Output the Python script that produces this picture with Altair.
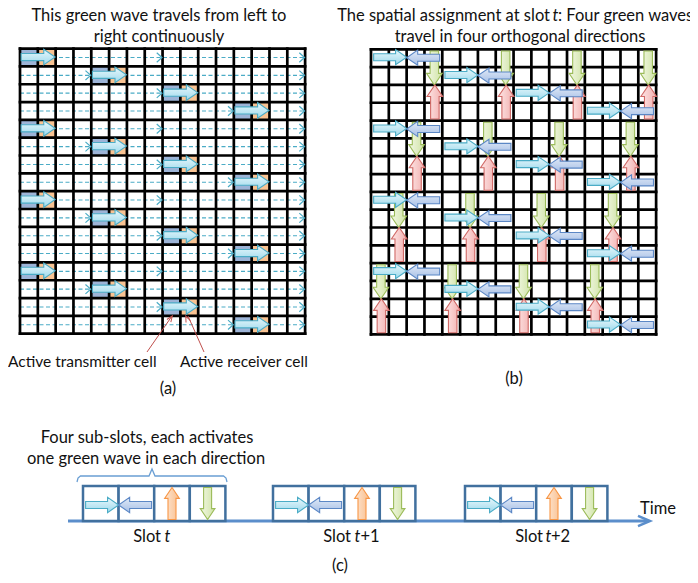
import altair as alt
import pandas as pd

# ------------------------------------------------------------------
# Data
# ------------------------------------------------------------------
N_CELLS = 16
# panel (a): per row, column of active transmitter cell and receiver cell
A_ROW = [0, 1, 2, 3, 4, 5, 6, 7, 8, 9, 10, 11, 12, 13, 14, 15]
A_TX_COL = [0, 4, 8, 12, 0, 4, 8, 12, 0, 4, 8, 12, 0, 4, 8, 12]
A_RX_COL = [1, 5, 9, 13, 1, 5, 9, 13, 1, 5, 9, 13, 1, 5, 9, 13]
# open chevrons on the dashed wave lines (row, grid-boundary column)
A_CHEV_ROW = [0, 0, 1, 1, 2, 2, 3, 3, 4, 4, 5, 5, 6, 6, 7, 7,
              8, 8, 9, 9, 10, 10, 11, 11, 12, 12, 13, 13, 14, 14, 15, 15]
A_CHEV_COL = [8, 16, 4, 16, 8, 16, 12, 16, 8, 16, 4, 16, 8, 16, 12, 16,
              8, 16, 4, 16, 8, 16, 12, 16, 8, 16, 4, 16, 8, 16, 12, 16]

# panel (b): horizontal waves (row, first column of the 2-cell arrow)
B_H_ROW = [0, 1, 2, 3, 4, 5, 6, 7, 8, 9, 10, 11, 12, 13, 14, 15]
B_RIGHT_COL = [0, 4, 8, 12, 0, 4, 8, 12, 0, 4, 8, 12, 0, 4, 8, 12]
B_LEFT_COL = [2, 6, 10, 14, 2, 6, 10, 14, 2, 6, 10, 14, 2, 6, 10, 14]
# vertical waves (column, first row of the 2-cell arrow)
B_V_COL = [3, 7, 11, 15, 2, 6, 10, 14, 1, 5, 9, 13, 0, 4, 8, 12]
B_DOWN_ROW = [0, 0, 0, 0, 4, 4, 4, 4, 8, 8, 8, 8, 12, 12, 12, 12]
B_UP_ROW = [2, 2, 2, 2, 6, 6, 6, 6, 10, 10, 10, 10, 14, 14, 14, 14]

# panel (c): slots and their four sub-slots
C_SLOTS = ["t", "t+1", "t+2"]
C_SUB_DIR = ["right", "left", "up", "down"]

# texts
TXT_CENTER = ["This green wave travels from left to", "right continuously",
              "travel in four orthogonal directions", "(a)", "(b)",
              "Four sub-slots, each activates", "one green wave in each direction", "(c)"]
TXT_RIGHT = ["The spatial assignment at slot", "Slot", "Slot", "Slot"]
TXT_ITALIC = ["t", "t", "t", "t"]
TXT_LEFT = [": Four green waves", "+1", "+2", "Time"]
TXT_LABELS = ["Active transmitter cell", "Active receiver cell"]

# ------------------------------------------------------------------
# Layout (pixel frame of the figure)
# ------------------------------------------------------------------
A_X0, A_Y0 = 20.0, 48.6
B_X0, B_Y0 = 371.0, 49.3
CELL = 17.82
C_SLOT_X0 = [83.0, 273.0, 465.0]
C_SUB_W = 35.6
C_TOP, C_BOT = 486.0, 521.0

POS_CENTER = [(159, 21), (159, 42), (520, 42), (168, 394), (514, 384),
              (147, 443), (146, 464), (340, 571)]
POS_RIGHT = [(550, 21), (161, 542), (351, 542), (543, 542)]
POS_ITALIC = [(552.5, 21), (164.5, 542), (354.5, 542), (545.5, 542)]
POS_LEFT = [(558, 21), (360.5, 542), (551, 542), (640, 514)]
POS_LABELS = [(8, 367), (180, 367)]

FONT = "Lato"
FS = 16.5
FS_LABEL = 15.5

XS = alt.Scale(domain=[8, 690], nice=False, zero=False)
YS = alt.Scale(domain=[8, 575], nice=False, zero=False, reverse=True)


def ex(f="x"):
    return alt.X(f"{f}:Q", scale=XS, axis=None)


def ey(f="y"):
    return alt.Y(f"{f}:Q", scale=YS, axis=None)


# arrow shapes (unit square [-1,1])
P_RIGHT = "M-1,-0.21L0.33,-0.21L0.33,-0.46L1,0L0.33,0.46L0.33,0.21L-1,0.21Z"
P_LEFT = "M1,-0.21L-0.33,-0.21L-0.33,-0.46L-1,0L-0.33,0.46L-0.33,0.21L1,0.21Z"
P_UP = "M-0.25,1L-0.25,-0.32L-0.46,-0.32L0,-1L0.46,-0.32L0.25,-0.32L0.25,1Z"
P_DOWN = "M-0.25,-1L-0.25,0.32L-0.46,0.32L0,1L0.46,0.32L0.25,0.32L0.25,-1Z"
P_CHEV = "M-0.5,-0.9L0.5,0L-0.5,0.9"

STYLE = {
    "right": ("#4BACC6", ["#EAF8FC", "#9CD9EC"], True),
    "left": ("#5B87C5", ["#E1EAF7", "#A6BFE6"], True),
    "down": ("#9BBB59", ["#F3F8E6", "#CFE3A4"], False),
    "up": ("#D06966", ["#FDE6E6", "#F2AFAE"], False),
    "upo": ("#F79646", ["#FDE6D3", "#F9BE8C"], False),
}
PATH = {"right": P_RIGHT, "left": P_LEFT, "down": P_DOWN, "up": P_UP, "upo": P_UP}


def arrows(df, kind, length):
    stroke, stops, vertical_grad = STYLE[kind]
    grad = alt.Gradient(
        gradient="linear",
        stops=[alt.GradientStop(color=stops[0], offset=0), alt.GradientStop(color=stops[1], offset=1)],
        x1=0, y1=0, x2=0 if vertical_grad else 1, y2=1 if vertical_grad else 0,
    )
    return alt.Chart(df).mark_point(
        shape=PATH[kind], size=length * length, filled=True, fill=grad,
        stroke=stroke, strokeWidth=1.1, opacity=1, fillOpacity=1,
    ).encode(x=ex(), y=ey())


layers = []

# ---------------- panel (a) ----------------
cells = []
for r, tx, rx in zip(A_ROW, A_TX_COL, A_RX_COL):
    cells.append(dict(x=A_X0 + tx * CELL, x2=A_X0 + (tx + 1) * CELL, y=A_Y0 + r * CELL,
                      y2=A_Y0 + (r + 1) * CELL, c="#9DB4D7"))
    cells.append(dict(x=A_X0 + rx * CELL, x2=A_X0 + (rx + 1) * CELL, y=A_Y0 + r * CELL,
                      y2=A_Y0 + (r + 1) * CELL, c="#F9C393"))
layers.append(alt.Chart(pd.DataFrame(cells)).mark_rect().encode(
    x=ex(), x2="x2:Q", y=ey(), y2="y2:Q", color=alt.Color("c:N", scale=None)))

dash = pd.DataFrame(dict(x=[A_X0] * len(A_ROW), x2=[A_X0 + N_CELLS * CELL] * len(A_ROW),
                         y=[A_Y0 + (r + 0.5) * CELL for r in A_ROW]))
layers.append(alt.Chart(dash).mark_rule(color="#4BACC6", strokeWidth=1.1, strokeDash=[4, 2.5]).encode(
    x=ex(), x2="x2:Q", y=ey()))

# grids
grid = []
for x0, y0 in [(A_X0, A_Y0), (B_X0, B_Y0)]:
    for i in range(N_CELLS + 1):
        grid.append(dict(x=x0 + i * CELL, x2=x0 + i * CELL, y=y0, y2=y0 + N_CELLS * CELL))
        grid.append(dict(x=x0, x2=x0 + N_CELLS * CELL, y=y0 + i * CELL, y2=y0 + i * CELL))
layers.append(alt.Chart(pd.DataFrame(grid)).mark_rule(color="#000000", strokeWidth=2.7, strokeCap="square").encode(
    x=ex(), x2="x2:Q", y=ey(), y2="y2:Q"))

chev = pd.DataFrame(dict(x=[A_X0 + c * CELL - 3.2 for c in A_CHEV_COL],
                         y=[A_Y0 + (r + 0.5) * CELL for r in A_CHEV_ROW]))
layers.append(alt.Chart(chev).mark_point(shape=P_CHEV, size=110, filled=False, stroke="#4BACC6",
                                         strokeWidth=1.2, opacity=1).encode(x=ex(), y=ey()))

a_arr = pd.DataFrame(dict(x=[A_X0 + (rx + 1) * CELL - 0.5 - 17 for rx in A_RX_COL],
                          y=[A_Y0 + (r + 0.5) * CELL - 0.5 for r in A_ROW]))
layers.append(arrows(a_arr, "right", 34))

# pointer lines to the active cells
ptr = pd.DataFrame(dict(x=[147, 204], y=[352, 352], x2=[172, 188], y2=[316, 316]))
layers.append(alt.Chart(ptr).mark_rule(color="#C0504D", strokeWidth=1).encode(
    x=ex(), y=ey(), x2="x2:Q", y2="y2:Q"))
ptr_head = pd.DataFrame(dict(x=[170.6, 187.0], y=[318.4, 318.8], a=[35.0, 336.0]))
layers.append(alt.Chart(ptr_head).mark_point(shape="M-0.8,1L0,-1L0.8,1", size=36, filled=False,
                                             stroke="#C0504D", strokeWidth=1, opacity=1).encode(
    x=ex(), y=ey(), angle=alt.Angle("a:Q", scale=None)))

# ---------------- panel (b) ----------------
b_right = pd.DataFrame(dict(x=[B_X0 + (c + 2) * CELL - 16.5 for c in B_RIGHT_COL],
                            y=[B_Y0 + (r + 0.5) * CELL - 1 for r in B_H_ROW]))
b_left = pd.DataFrame(dict(x=[B_X0 + c * CELL + 16.5 for c in B_LEFT_COL],
                           y=[B_Y0 + (r + 0.5) * CELL - 0.5 for r in B_H_ROW]))
b_down = pd.DataFrame(dict(x=[B_X0 + (c + 0.5) * CELL + 1 for c in B_V_COL],
                           y=[B_Y0 + (r + 2) * CELL - 17 for r in B_DOWN_ROW]))
b_up = pd.DataFrame(dict(x=[B_X0 + (c + 0.5) * CELL + 1.5 for c in B_V_COL],
                         y=[B_Y0 + r * CELL + 17 for r in B_UP_ROW]))
layers.append(arrows(b_down, "down", 34))
layers.append(arrows(b_up, "up", 34))
layers.append(arrows(b_right, "right", 33))
layers.append(arrows(b_left, "left", 33))

# ---------------- panel (c) ----------------
tl = pd.DataFrame(dict(x=[68], x2=[647], y=[C_BOT]))
layers.append(alt.Chart(tl).mark_rule(color="#5B8ECB", strokeWidth=3).encode(x=ex(), x2="x2:Q", y=ey()))
layers.append(alt.Chart(pd.DataFrame(dict(x=[644], y=[C_BOT]))).mark_point(
    shape="M-1,-0.85L1,0L-1,0.85", size=144, filled=False, stroke="#5B8ECB", strokeWidth=2.5,
    opacity=1).encode(x=ex(), y=ey()))

boxes = []
sub = {d: [] for d in C_SUB_DIR}
for s, x0 in zip(C_SLOTS, C_SLOT_X0):
    for k, d in enumerate(C_SUB_DIR):
        bx = x0 + k * C_SUB_W
        boxes.append(dict(x=bx, x2=bx + C_SUB_W, y=C_TOP, y2=C_BOT))
        if d == "right":
            sub[d].append(dict(x=bx + C_SUB_W - 16.5, y=(C_TOP + C_BOT) / 2 + 1.5))
        elif d == "left":
            sub[d].append(dict(x=bx + 16.5, y=(C_TOP + C_BOT) / 2 + 1.5))
        else:
            sub[d].append(dict(x=bx + C_SUB_W / 2, y=(C_TOP + C_BOT) / 2))
layers.append(alt.Chart(pd.DataFrame(boxes)).mark_rect(fill="white", stroke="#41709E", strokeWidth=2.5).encode(
    x=ex(), x2="x2:Q", y=ey(), y2="y2:Q"))
layers.append(arrows(pd.DataFrame(sub["right"]), "right", 33))
layers.append(arrows(pd.DataFrame(sub["left"]), "left", 33))
layers.append(arrows(pd.DataFrame(sub["up"]), "upo", 32))
layers.append(arrows(pd.DataFrame(sub["down"]), "down", 32))

brace = pd.DataFrame(dict(
    x=[77, 78, 80.5, 149, 152, 155, 223.5, 226, 227],
    y=[482, 478, 476, 476, 469, 476, 476, 478, 482],
    o=list(range(9))))
layers.append(alt.Chart(brace).mark_line(color="#6A9FD4", strokeWidth=1.3).encode(
    x=ex(), y=ey(), order="o:Q"))

# ---------------- texts ----------------
def text_layer(texts, pos, align, style="normal", size=FS):
    df = pd.DataFrame(dict(t=texts, x=[p[0] for p in pos], y=[p[1] for p in pos]))
    return alt.Chart(df).mark_text(align=align, baseline="alphabetic", font=FONT, fontSize=size,
                                   fontStyle=style, color="#111111").encode(x=ex(), y=ey(), text="t:N")


layers.append(text_layer(TXT_CENTER, POS_CENTER, "center"))
layers.append(text_layer(TXT_RIGHT, POS_RIGHT, "right"))
layers.append(text_layer(TXT_ITALIC, POS_ITALIC, "left", "italic"))
layers.append(text_layer(TXT_LEFT, POS_LEFT, "left"))
layers.append(text_layer(TXT_LABELS, POS_LABELS, "left", size=FS_LABEL))

chart = alt.layer(*layers).properties(
    width=682, height=567, padding=0,
    autosize=alt.AutoSizeParams(type="none"),
    background="white",
).configure_view(stroke=None)

chart.save("out.html", embed_options={"renderer": "svg", "actions": False})
